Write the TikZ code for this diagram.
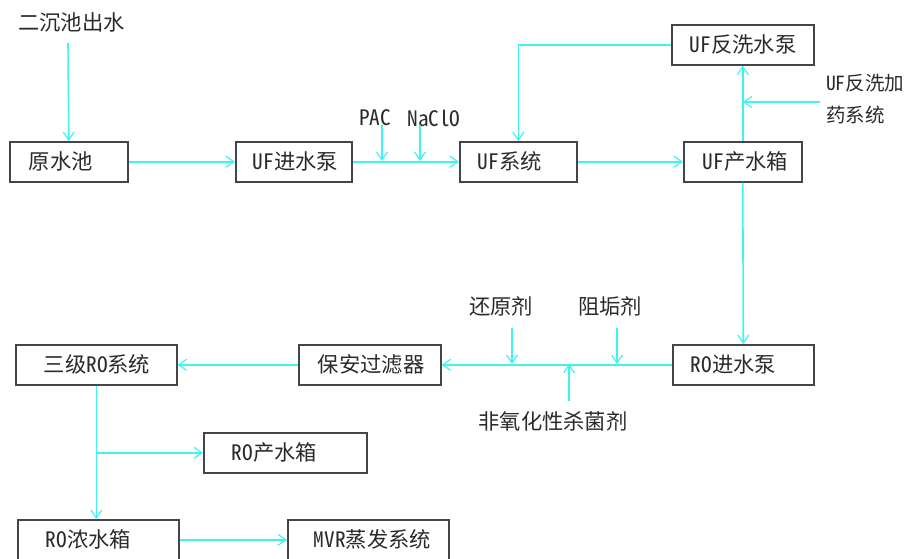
\documentclass[tikz,border=0pt]{standalone}
\usepackage{fontspec}
\setmainfont{Noto Sans CJK SC}[RawFeature=+hwid]
\usetikzlibrary{arrows.meta}
\definecolor{flowc}{HTML}{40F2F2}
\definecolor{boxc}{HTML}{454545}
\definecolor{txtc}{HTML}{2A2A2A}
\begin{document}
\begin{tikzpicture}[x=1pt,y=-1pt,
  every node/.style={font=\fontsize{21.3}{32}\selectfont, text=txtc},
  box/.style={draw=boxc, line width=1.6pt, anchor=north west, minimum height=40pt, align=left, inner ysep=0pt},
  lbl/.style={inner sep=0pt},
  flow/.style={draw=flowc, line width=1.6pt, -{Straight Barb[length=8pt,width=11pt,line width=1.2pt]}}]
\useasboundingbox (0,0) rectangle (906,559);
% top row
\node[lbl, anchor=west] (src) at (18,22) {二沉池出水};
\node[box, inner xsep=19pt, text width=80pt] (yuan) at (9,141) {原水池};
\node[box, inner xsep=17pt, text width=82pt] (ufin) at (235,141) {UF进水泵};
\node[box, inner xsep=18pt, text width=81pt] (ufsys) at (459,141) {UF系统};
\node[box, inner xsep=19pt, text width=80pt] (ufprod) at (683,141) {UF产水箱};
\node[box, inner xsep=18pt, text width=106pt] (ufback) at (671,24) {UF反洗水泵};
\node[lbl, anchor=north west, align=left, font=\fontsize{19.5}{32}\selectfont] (chem) at (826,74) {UF反洗加\\药系统};
\node[lbl] (pac) at (375,118) {PAC};
\node[lbl] (naclo) at (434,118) {NaClO};
\coordinate (chemin) at (820,102);
\coordinate (pacin) at (382,161);
\coordinate (nacloin) at (420,161);
\coordinate (srcout) at (68,43);
% bottom
\node[box, inner xsep=18pt, text width=105pt] (roin) at (672,344) {RO进水泵};
\node[box, inner xsep=19pt, text width=104pt] (filter) at (298,344) {保安过滤器};
\node[box, inner xsep=28pt, text width=105pt] (ro3) at (15,344) {三级RO系统};
\node[box, inner xsep=28pt, text width=107pt] (roprod) at (203,432) {RO产水箱};
\node[box, inner xsep=28pt, text width=105pt] (roconc) at (17,519) {RO浓水箱};
\node[box, inner xsep=26pt, text width=109pt] (mvr) at (287,519) {MVR蒸发系统};
\node[lbl] (hyj) at (501,306) {还原剂};
\node[lbl] (zgj) at (610,306) {阻垢剂};
\node[lbl] (sjj) at (553,421) {非氧化性杀菌剂};
\coordinate (hyjin) at (512,364);
\coordinate (zgjin) at (617,364);
\coordinate (sjjin) at (569,364);
% connectors top
\draw[flow] (srcout) -- (yuan.north);
\draw[flow] (yuan.east) -- (ufin.west);
\draw[flow] (ufin.east) -- (ufsys.west);
\draw[flow] (pacin |- 0,125) -- (pacin);
\draw[flow] (nacloin |- 0,125) -- (nacloin);
\draw[flow] (ufsys.east) -- (ufprod.west);
\draw[flow] (ufprod.north) -- (ufback.south);
\draw[flow] (chemin) -- (chemin -| ufprod.north);
\draw[flow] (ufback.west) -| (ufsys.north);
% connectors bottom
\draw[flow] (ufprod.south) -- (roin.north);
\draw[flow] (roin.west) -- (filter.east);
\draw[flow] (hyjin |- 0,328) -- (hyjin);
\draw[flow] (zgjin |- 0,328) -- (zgjin);
\draw[flow] (sjjin |- 0,401) -- (sjjin);
\draw[flow] (filter.west) -- (ro3.east);
\draw[flow] (ro3.south) -- (ro3.south |- roconc.north);
\draw[flow] (ro3.south |- roprod.west) -- (roprod.west);
\draw[flow] (roconc.east) -- (mvr.west);
\end{tikzpicture}
\end{document}
